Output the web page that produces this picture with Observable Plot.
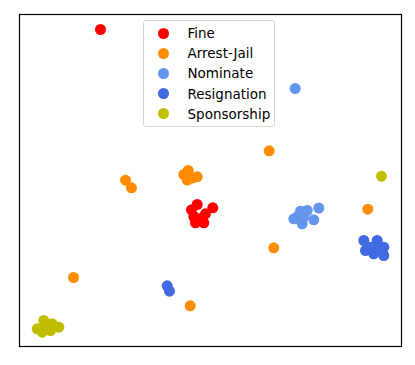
<!DOCTYPE html>
<html>
<head>
<meta charset="utf-8">
<script src="https://cdn.jsdelivr.net/npm/d3@7"></script>
<script src="https://cdn.jsdelivr.net/npm/@observablehq/plot@0.6"></script>
<style>
  body { margin: 0; background: #fff; font-family: "DejaVu Sans", sans-serif; }
  #wrap { position: relative; width: 415px; height: 365px; }
  #legend {
    position: absolute; left: 143px; top: 20px; width: 132px;
    box-sizing: border-box; padding: 2px 0 2px 0;
    border: 1px solid #d6d6d6; border-radius: 3px; background: rgba(255,255,255,0.8);
    font-size: 13.5px; color: #000;
  }
  .row { position: relative; height: 20.2px; line-height: 20.2px; }
  .sw { position: absolute; left: 13.5px; top: 4.6px; width: 11px; height: 11px; border-radius: 50%; }
  .lb { position: absolute; left: 43.5px; top: 0; white-space: nowrap; }
</style>
</head>
<body>
<div id="wrap"><div id="chart"></div><div id="legend"></div></div>
<script>
const categories = ["Fine", "Arrest-Jail", "Nominate", "Resignation", "Sponsorship"];
const colors = ["#ff0000", "#ff8c00", "#6495ed", "#4169e1", "#bfbf00"];

const fineX = [100, 196.7, 212.3, 191, 205, 193.3, 195, 203.3, 200];
const fineY = [29, 204, 207.3, 209.3, 213.3, 216, 222.3, 222.3, 218];

const arrestX = [268.7, 125, 131, 187.7, 183.3, 196.7, 186.7, 191.7, 367.3, 273.3, 73, 189.7];
const arrestY = [150.3, 179.7, 187.3, 170, 174, 176.3, 179.5, 177.5, 208.7, 247.3, 277, 305.3];

const nominateX = [294.7, 318.3, 300, 306.7, 293.3, 301.7, 313.3, 303.3, 298.3];
const nominateY = [88, 207.5, 210.7, 210, 218.3, 223.3, 219.3, 216.7, 215];

const resignX = [166.7, 169, 363.3, 376.7, 370, 383.3, 365, 373.3, 383.3, 378.3];
const resignY = [285.3, 290.7, 240, 240, 246.7, 246.7, 250, 253.3, 255, 250];

const sponsorX = [381, 36.7, 43.3, 51.7, 58.3, 41.7, 50, 46.7];
const sponsorY = [175.7, 328.3, 320, 323.3, 326.7, 331.7, 330, 326.7];

const seriesX = [fineX, arrestX, nominateX, resignX, sponsorX];
const seriesY = [fineY, arrestY, nominateY, resignY, sponsorY];

const data = [];
categories.forEach((c, i) => {
  seriesX[i].forEach((x, j) => data.push({cat: c, x, y: seriesY[i][j]}));
});

const chart = Plot.plot({
  width: 415,
  height: 365,
  marginLeft: 19,
  marginRight: 14,
  marginTop: 14,
  marginBottom: 19,
  x: {domain: [19, 401], axis: null},
  y: {domain: [346, 14], axis: null},
  color: {domain: categories, range: colors},
  marks: [
    Plot.dot(data, {x: "x", y: "y", fill: "cat", r: 5.5, stroke: "none"}),
    Plot.frame({stroke: "#000", strokeWidth: 1.2})
  ]
});
document.getElementById("chart").appendChild(chart);

const legend = document.getElementById("legend");
categories.forEach((c, i) => {
  const row = document.createElement("div");
  row.className = "row";
  const sw = document.createElement("span");
  sw.className = "sw";
  sw.style.background = colors[i];
  const lb = document.createElement("span");
  lb.className = "lb";
  lb.textContent = c;
  row.appendChild(sw);
  row.appendChild(lb);
  legend.appendChild(row);
});
</script>
</body>
</html>
